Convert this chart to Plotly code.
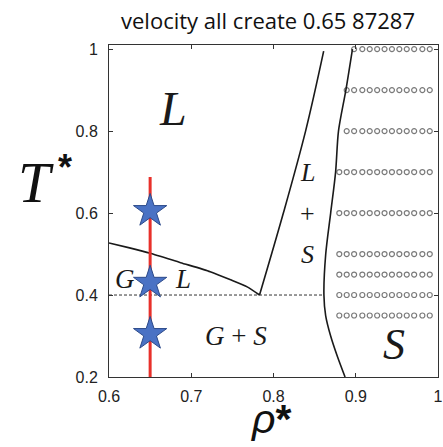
import plotly.graph_objects as go

# ---- data ----
lg_rho = [0.600, 0.625, 0.650, 0.687, 0.723, 0.748, 0.768, 0.783]
lg_T = [0.527, 0.515, 0.502, 0.479, 0.457, 0.437, 0.420, 0.400]

freeze_rho = [0.783, 0.812, 0.839, 0.861]
freeze_T = [0.400, 0.600, 0.800, 0.995]

melt_rho = [0.896, 0.888, 0.879, 0.8755, 0.8695, 0.8635, 0.8613, 0.8634, 0.8695, 0.8777, 0.887]
melt_T = [1.00, 0.90, 0.80, 0.70, 0.60, 0.50, 0.40, 0.35, 0.30, 0.25, 0.20]

triple_rho = [0.600, 0.861]
triple_T = [0.40, 0.40]

path_rho = [0.65, 0.65]
path_T = [0.20, 0.688]

star_rho = [0.65, 0.65, 0.65]
star_T = [0.605, 0.43, 0.305]

dot_rho_all = [0.880, 0.889, 0.898, 0.908, 0.917, 0.926, 0.935, 0.944,
               0.953, 0.962, 0.971, 0.981, 0.990]
dot_rows_T = [1.00, 0.90, 0.80, 0.70, 0.60, 0.50, 0.45, 0.40, 0.35]
dot_rows_start = [2, 1, 1, 0, 0, 0, 0, 0, 0]

x_ticks = [0.6, 0.7, 0.8, 0.9, 1.0]
x_tick_text = ["0.6", "0.7", "0.8", "0.9", "1"]
y_ticks = [0.2, 0.4, 0.6, 0.8, 1.0]
y_tick_text = ["0.2", "0.4", "0.6", "0.8", "1"]

title_text = "velocity all create 0.65 87287"

# ---- figure ----
fig = go.Figure()

dx, dy = [], []
for T, s in zip(dot_rows_T, dot_rows_start):
    for r in dot_rho_all[s:]:
        dx.append(r)
        dy.append(T)
fig.add_trace(go.Scatter(x=dx, y=dy, mode="markers",
                         marker=dict(symbol="circle-open", size=5,
                                     color="#7a7a7a", line=dict(width=1.2)),
                         hoverinfo="skip"))

fig.add_trace(go.Scatter(x=triple_rho, y=triple_T, mode="lines",
                         line=dict(color="#333333", width=1, dash="3px,2px")))
fig.add_trace(go.Scatter(x=lg_rho, y=lg_T, mode="lines",
                         line=dict(color="#1a1a1a", width=1.6, shape="spline", smoothing=0.6)))
fig.add_trace(go.Scatter(x=freeze_rho, y=freeze_T, mode="lines",
                         line=dict(color="#1a1a1a", width=1.6, shape="spline")))
fig.add_trace(go.Scatter(x=melt_rho, y=melt_T, mode="lines",
                         line=dict(color="#1a1a1a", width=1.6, shape="spline", smoothing=0.8)))
fig.add_trace(go.Scatter(x=path_rho, y=path_T, mode="lines",
                         line=dict(color="#e8302a", width=3)))
fig.add_trace(go.Scatter(x=star_rho, y=star_T, mode="markers",
                         marker=dict(symbol="star", size=25, color="#4a72c4",
                                     line=dict(color="#2c4a8a", width=1))))

serif = "Liberation Serif"
labels = [
    (0.678, 0.855, "<i>L</i>", 48),
    (0.841, 0.70, "<i>L</i>", 26),
    (0.841, 0.60, "+", 26),
    (0.841, 0.50, "<i>S</i>", 26),
    (0.620, 0.44, "<i>G</i>", 27),
    (0.690, 0.44, "<i>L</i>", 27),
    (0.754, 0.30, "<i>G</i> + <i>S</i>", 27),
    (0.946, 0.28, "<i>S</i>", 44),
]
for x, y, t, s in labels:
    fig.add_annotation(x=x, y=y, xref="x", yref="y", text=t,
                       showarrow=False, font=dict(family=serif, size=s, color="#1a1a1a"))

# axis titles
fig.add_annotation(x=-0.283, y=0.585, xref="paper", yref="paper",
                   text="<i>T</i>", showarrow=False,
                   font=dict(family=serif, size=58, color="#111111"))
fig.add_annotation(x=-0.16, y=0.632, xref="paper", yref="paper",
                   text="<b>*</b>", showarrow=False,
                   font=dict(family="Liberation Sans", size=36, color="#111111"))
fig.add_annotation(x=0.492, y=-0.202, xref="paper", yref="paper",
                   text="<i>ρ</i><b>*</b>", showarrow=False,
                   font=dict(family="Liberation Sans", size=41, color="#111111"))

axis_common = dict(showgrid=False, zeroline=False, showline=True, linecolor="#333333",
                   linewidth=1, mirror="ticks", ticks="inside", ticklen=4,
                   tickcolor="#333333", automargin=False,
                   tickfont=dict(family="Liberation Sans", size=16, color="#222222"))

fig.update_layout(
    width=443, height=447,
    margin=dict(l=109, r=5, t=45, b=70, autoexpand=False),
    paper_bgcolor="white", plot_bgcolor="white",
    showlegend=False,
    title=dict(text=title_text, x=0.605, xanchor="center", y=0.952, yanchor="middle",
               font=dict(family="Open Sans", size=22, color="#111111"),
               automargin=False),
    xaxis=dict(range=[0.6, 1.0], tickvals=x_ticks, ticktext=x_tick_text,
               ticklabelstandoff=5, **axis_common),
    yaxis=dict(range=[0.2, 1.01], tickvals=y_ticks, ticktext=y_tick_text,
               ticklabelstandoff=7, **axis_common),
)

fig.write_html("out.html", config={"displayModeBar": False},
               post_script="document.body.style.margin='0';document.body.style.overflow='hidden';")
